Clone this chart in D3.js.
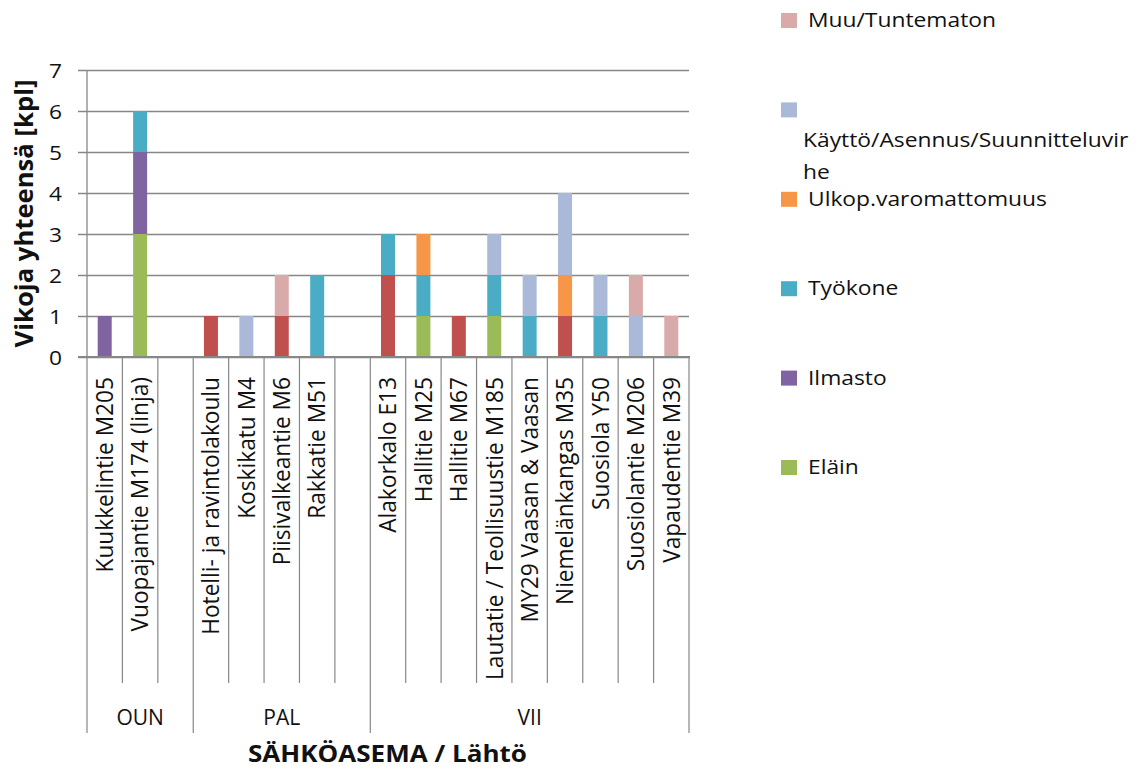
<!DOCTYPE html>
<html>
<head>
<meta charset="utf-8">
<script src="https://cdn.jsdelivr.net/npm/d3@7/dist/d3.min.js"></script>
<style>
  html, body { margin: 0; padding: 0; background: #fff; }
  svg { display: block; }
  text { font-family: "Open Sans", "DejaVu Sans", sans-serif; fill: #111; }
</style>
</head>
<body>
<svg id="chart" width="1138" height="772"></svg>
<script>
// Stations (groups) and the feeder slots under each; "" marks an empty spacer slot
const groups = ["OUN", "PAL", "VII"];
const groupSlots = [3, 5, 9];
const categories = [
  "Kuukkelintie M205", "Vuopajantie M174 (linja)", "",
  "Hotelli- ja ravintolakoulu", "Koskikatu M4", "Piisivalkeantie M6", "Rakkatie M51", "",
  "Alakorkalo E13", "Hallitie M25", "Hallitie M67", "Lautatie / Teollisuustie M185",
  "MY29 Vaasan & Vaasan", "Niemelänkangas M35", "Suosiola Y50", "Suosiolantie M206", "Vapaudentie M39"
];

// Fault counts per cause, stacked bottom to top in this order
const laitevika = [0, 0, 0, 1, 0, 1, 0, 0, 2, 0, 1, 0, 0, 1, 0, 0, 0];
const elain     = [0, 3, 0, 0, 0, 0, 0, 0, 0, 1, 0, 1, 0, 0, 0, 0, 0];
const ilmasto   = [1, 2, 0, 0, 0, 0, 0, 0, 0, 0, 0, 0, 0, 0, 0, 0, 0];
const tyokone   = [0, 1, 0, 0, 0, 0, 2, 0, 1, 1, 0, 1, 1, 0, 1, 0, 0];
const ulkop     = [0, 0, 0, 0, 0, 0, 0, 0, 0, 1, 0, 0, 0, 1, 0, 0, 0];
const kaytto    = [0, 0, 0, 0, 1, 0, 0, 0, 0, 0, 0, 1, 1, 2, 1, 1, 0];
const muu       = [0, 0, 0, 0, 0, 1, 0, 0, 0, 0, 0, 0, 0, 0, 0, 1, 1];

const seriesKeys   = ["Laitevika", "Eläin", "Ilmasto", "Työkone", "Ulkop.varomattomuus", "Käyttö/Asennus/Suunnitteluvirhe", "Muu/Tuntematon"];
const seriesValues = [laitevika, elain, ilmasto, tyokone, ulkop, kaytto, muu];
const seriesColors = ["#C0504D", "#9BBB59", "#8064A2", "#4BACC6", "#F79646", "#AAB9D7", "#D9AAAA"];

// Legend entries, top to bottom (lines of each label)
const legendKeys  = ["Muu/Tuntematon", "Käyttö/Asennus/Suunnitteluvirhe", "Ulkop.varomattomuus", "Työkone", "Ilmasto", "Eläin"];
const legendLines = [["Muu/Tuntematon"], ["Käyttö/Asennus/Suunnitteluvir", "he"], ["Ulkop.varomattomuus"], ["Työkone"], ["Ilmasto"], ["Eläin"]];

const yTicks = [0, 1, 2, 3, 4, 5, 6, 7];
const yTitle = "Vikoja yhteensä [kpl]";
const xTitle = "SÄHKÖASEMA / Lähtö";

const svg = d3.select("#chart");
const plot = { left: 87, right: 689, top: 70, bottom: 357 };
const axisGray = "#878787";

const x = d3.scaleBand().domain(d3.range(categories.length)).range([plot.left, plot.right]).padding(0);
const y = d3.scaleLinear().domain([0, 7]).range([plot.bottom, plot.top]);
const color = d3.scaleOrdinal().domain(seriesKeys).range(seriesColors);

// Rows for the stack layout
const rows = categories.map((c, i) => {
  const r = { idx: i };
  seriesKeys.forEach((k, s) => { r[k] = seriesValues[s][i]; });
  return r;
});
const stacked = d3.stack().keys(seriesKeys)(rows);

// Gridlines + y tick labels
const yAxis = d3.axisLeft(y).tickValues(yTicks).tickFormat(d3.format("d"))
  .tickSizeInner(-(plot.right - 78)).tickSizeOuter(0).tickPadding(16);
const gy = svg.append("g").attr("transform", "translate(78,0)").call(yAxis);
gy.select(".domain").remove();
gy.selectAll(".tick line").attr("stroke", axisGray).attr("stroke-width", 1.3);
gy.selectAll(".tick text").attr("font-size", 20).attr("fill", "#222")
  .attr("font-family", "'Open Sans', sans-serif").attr("dy", "0.36em")
  .attr("textLength", 13).attr("lengthAdjust", "spacingAndGlyphs");

// Vertical value axis line
svg.append("line").attr("x1", plot.left).attr("x2", plot.left)
  .attr("y1", y(7)).attr("y2", plot.bottom).attr("stroke", axisGray).attr("stroke-width", 1.3);

// Bars
const barW = 14;
svg.append("g").selectAll("g").data(stacked).join("g")
  .attr("fill", d => color(d.key))
  .selectAll("rect").data(d => d.filter(p => p[1] - p[0] > 0)).join("rect")
  .attr("x", p => x(p.data.idx) + x.bandwidth() / 2 - barW / 2)
  .attr("width", barW)
  .attr("y", p => y(p[1]))
  .attr("height", p => y(p[0]) - y(p[1]));

// Category axis line
svg.append("line").attr("x1", 78).attr("x2", plot.right + 1)
  .attr("y1", plot.bottom).attr("y2", plot.bottom).attr("stroke", axisGray).attr("stroke-width", 2);

// Slot dividers: short between feeders, long between stations
const groupEnds = [0];
groupSlots.forEach(n => groupEnds.push(groupEnds[groupEnds.length - 1] + n));
const boundaries = d3.range(categories.length + 1);
svg.append("g").selectAll("line").data(boundaries).join("line")
  .attr("x1", j => plot.left + j * x.step()).attr("x2", j => plot.left + j * x.step())
  .attr("y1", plot.bottom)
  .attr("y2", j => groupEnds.includes(j) ? 733 : 683)
  .attr("stroke", axisGray).attr("stroke-width", 1.2);

// Rotated feeder labels, stretched to the drawn lengths
const catFont = 23;
const catG = svg.append("g");
const catText = catG.selectAll("text").data(categories.map((c, i) => ({ c, i })).filter(d => d.c !== ""))
  .join("text")
  .attr("font-size", catFont)
  .attr("fill", "#222")
  .attr("text-anchor", "end")
  .attr("dy", "0.36em")
  .attr("transform", d => `translate(${x(d.i) + x.bandwidth() / 2},377) rotate(-90)`)
  .text(d => d.c);
const refCat = catText.filter(d => d.c === "Lautatie / Teollisuustie M185").node();
const catK = 303 / refCat.getComputedTextLength();
catText.each(function () {
  const w = this.getComputedTextLength();
  d3.select(this).attr("textLength", w * catK).attr("lengthAdjust", "spacingAndGlyphs");
});

// Station labels
svg.append("g").selectAll("text").data(groups).join("text")
  .attr("font-size", 21)
  .attr("fill", "#222")
  .attr("text-anchor", "middle")
  .attr("x", (g, i) => plot.left + (groupEnds[i] + groupEnds[i + 1]) / 2 * x.step())
  .attr("y", 725)
  .text(g => g);

// Axis titles
svg.append("text").attr("font-size", 24).attr("font-weight", "bold")
  .attr("text-anchor", "middle").attr("x", 387.5).attr("y", 762)
  .attr("textLength", 279).attr("lengthAdjust", "spacingAndGlyphs")
  .text(xTitle);
svg.append("text").attr("font-size", 25).attr("font-weight", "bold")
  .attr("text-anchor", "middle")
  .attr("transform", `translate(33,${(plot.top + plot.bottom) / 2}) rotate(-90)`)
  .attr("textLength", 268).attr("lengthAdjust", "spacingAndGlyphs")
  .text(yTitle);

// Legend
const defs = svg.append("defs");
defs.append("clipPath").attr("id", "legendClip")
  .append("rect").attr("x", 760).attr("y", 0).attr("width", 369).attr("height", 772);
const legend = svg.append("g").attr("clip-path", "url(#legendClip)");
const legStep = 89.4;
const legFont = 20;
const legTexts = [];
legendKeys.forEach((k, i) => {
  const top = 13 + i * legStep;
  legend.append("rect").attr("x", 781).attr("y", top).attr("width", 16).attr("height", 15)
    .attr("fill", color(k));
  const lines = legendLines[i];
  if (lines.length === 1) {
    legTexts.push(legend.append("text").attr("font-size", legFont).attr("fill", "#222")
      .attr("x", 808).attr("y", top + 14).text(lines[0]));
  } else {
    lines.forEach((ln, j) => {
      legTexts.push(legend.append("text").attr("font-size", legFont).attr("fill", "#222")
        .attr("x", 803).attr("y", top + 45 + j * 32).text(ln));
    });
  }
});
const legK = 188 / legTexts[0].node().getComputedTextLength();
legTexts.forEach(t => {
  const w = t.node().getComputedTextLength();
  t.attr("textLength", w * legK).attr("lengthAdjust", "spacingAndGlyphs");
});
</script>
</body>
</html>
